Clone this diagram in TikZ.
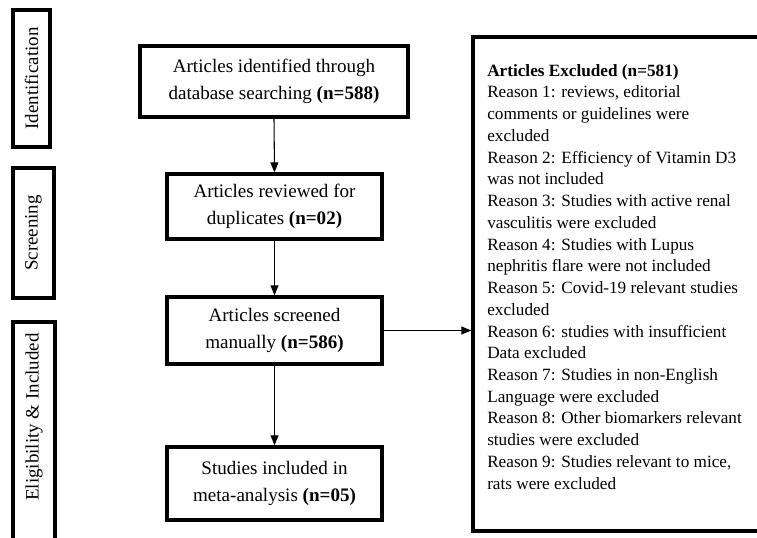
\documentclass[tikz,border=0pt]{standalone}
\usepackage{fontspec}
\setmainfont{Liberation Serif}
\usetikzlibrary{arrows.meta}
\begin{document}
\begin{tikzpicture}[x=0.75pt,y=-0.75pt,
  flowbox/.style={draw,line width=2.5pt,align=center,inner sep=0pt,
    font=\fontsize{14.3}{20}\selectfont},
  stagebox/.style={draw,line width=2.5pt,inner sep=0pt},
  stagetext/.style={rotate=90,font=\fontsize{14.2}{17}\selectfont,inner sep=0pt},
  flowarrow/.style={line width=0.8pt,-{Triangle[length=7.5pt,width=6pt]}}]
\useasboundingbox (0,0) rectangle (757,538);
\clip (0,0) rectangle (757,538);
% stage labels
\node[stagebox,minimum width=37*0.75pt,minimum height=137*0.75pt] (ident) at (31.5,78.5) {};
\node[stagetext] (identt) at (ident.center) {Identification};
\node[stagebox,minimum width=41*0.75pt,minimum height=130*0.75pt] (screen) at (33.5,233) {};
\node[stagetext] (screent) at (screen.center) {Screening};
\draw[line width=2.5pt] (13,560) -- (13,322) -- (55,322) -- (55,560);
\node[stagetext] (elig) at (34,417) {Eligibility \& Included};
% flow boxes
\node[flowbox,minimum width=268*0.75pt,minimum height=71*0.75pt] (b1) at (274,81.5)
  {Articles identified through\\database searching \textbf{(n=588)}};
\node[flowbox,minimum width=215*0.75pt,minimum height=65*0.75pt] (b2) at (274.5,206.5)
  {Articles reviewed for\\duplicates \textbf{(n=02)}};
\node[flowbox,minimum width=215*0.75pt,minimum height=67*0.75pt] (b3) at (274.5,330.5)
  {Articles screened\\manually \textbf{(n=586)}};
\node[flowbox,minimum width=215*0.75pt,minimum height=73*0.75pt] (b4) at (274.5,483.5)
  {Studies included in\\meta-analysis \textbf{(n=05)}};
% excluded box (right edge lies beyond the picture)
\node[stagebox,minimum width=307*0.75pt,minimum height=494*0.75pt] (rb) at (626.5,284) {};
\node[anchor=north west,inner sep=0pt,align=left,font=\fontsize{12.9}{16.3}\selectfont] (rt) at (487,64)
  {\textbf{Articles Excluded (n=581)}\\
Reason 1: reviews, editorial\\
comments or guidelines were\\
excluded\\
Reason 2: Efficiency of Vitamin D3\\
was not included\\
Reason 3: Studies with active renal\\
vasculitis were excluded\\
Reason 4: Studies with Lupus\\
nephritis flare were not included\\
Reason 5: Covid-19 relevant studies\\
excluded\\
Reason 6: studies with insufficient\\
Data excluded\\
Reason 7: Studies in non-English\\
Language were excluded\\
Reason 8: Other biomarkers relevant\\
studies were excluded\\
Reason 9: Studies relevant to mice,\\
rats were excluded};
% arrows
\draw[flowarrow] (b1.south) -- (b2.north);
\draw[flowarrow] (b2.south) -- (b3.north);
\draw[flowarrow] (b3.south) -- (b4.north);
\draw[flowarrow] (b3.east) -- (b3.east -| rb.west);
\end{tikzpicture}
\end{document}
